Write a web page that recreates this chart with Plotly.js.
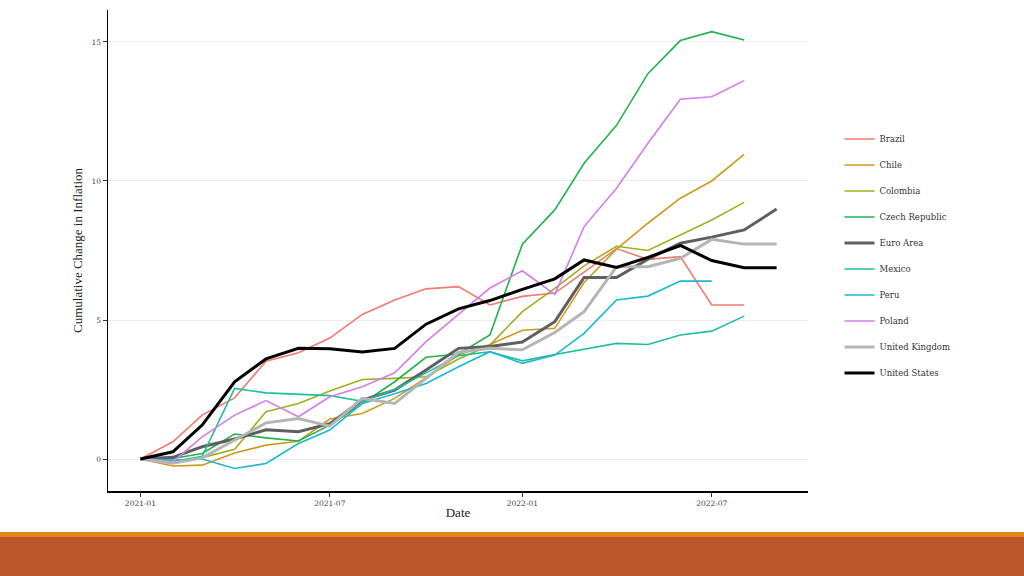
<!DOCTYPE html>
<html>
<head>
<meta charset="utf-8">
<script src="https://cdn.plot.ly/plotly-3.0.1.min.js"></script>
<style>
  html, body { margin: 0; padding: 0; background: #fff; }
  #chart { width: 1024px; height: 532px; }
  #band1 { width: 1024px; height: 5px; background: #e0861a; }
  #band2 { width: 1024px; height: 39px; background: #bc582c; }
</style>
</head>
<body>
<div id="chart"></div>
<div id="band1"></div>
<div id="band2"></div>
<script>
// monthly dates, Jan 2021 - Sep 2022
var dates = ['2021-01-01','2021-02-01','2021-03-01','2021-04-01','2021-05-01','2021-06-01',
  '2021-07-01','2021-08-01','2021-09-01','2021-10-01','2021-11-01','2021-12-01',
  '2022-01-01','2022-02-01','2022-03-01','2022-04-01','2022-05-01','2022-06-01',
  '2022-07-01','2022-08-01','2022-09-01'];

var brazil   = [0, 0.62, 1.58, 2.2, 3.52, 3.82, 4.35, 5.2, 5.72, 6.12, 6.2, 5.54, 5.85, 5.97, 6.72, 7.57, 7.18, 7.28, 5.54, 5.54];
var chile    = [0, -0.25, -0.22, 0.22, 0.5, 0.64, 1.44, 1.64, 2.18, 2.93, 3.75, 4.12, 4.63, 4.7, 6.35, 7.55, 8.48, 9.38, 10.0, 10.96];
var colombia = [0, -0.08, 0.05, 0.35, 1.7, 2.0, 2.45, 2.86, 2.9, 2.96, 3.6, 4.1, 5.3, 6.14, 6.95, 7.65, 7.5, 8.06, 8.6, 9.23];
var czech    = [0, 0.02, 0.2, 0.9, 0.76, 0.65, 1.22, 2.0, 2.78, 3.66, 3.78, 4.46, 7.73, 8.96, 10.64, 12.0, 13.86, 15.05, 15.37, 15.07];
var euro     = [0, 0.06, 0.44, 0.72, 1.05, 0.98, 1.27, 2.12, 2.48, 3.2, 3.98, 4.05, 4.21, 4.94, 6.53, 6.53, 7.19, 7.76, 7.98, 8.24, 8.99];
var mexico   = [0, -0.1, 0.1, 2.54, 2.38, 2.34, 2.28, 2.08, 2.5, 3.1, 3.72, 3.86, 3.53, 3.76, 3.95, 4.16, 4.12, 4.46, 4.6, 5.14];
var peru     = [0, -0.04, 0.0, -0.34, -0.16, 0.56, 1.04, 2.0, 2.35, 2.72, 3.32, 3.86, 3.44, 3.74, 4.52, 5.72, 5.86, 6.4, 6.4];
var poland   = [0, -0.1, 0.8, 1.58, 2.1, 1.52, 2.24, 2.6, 3.1, 4.22, 5.2, 6.15, 6.77, 5.92, 8.36, 9.74, 11.36, 12.94, 13.03, 13.61];
var uk       = [0, -0.15, 0.04, 0.68, 1.3, 1.46, 1.18, 2.18, 2.0, 2.9, 3.84, 3.98, 3.93, 4.55, 5.3, 6.92, 6.92, 7.22, 7.9, 7.73, 7.73];
var us       = [0, 0.26, 1.22, 2.78, 3.6, 3.98, 3.97, 3.85, 3.98, 4.85, 5.4, 5.7, 6.1, 6.48, 7.16, 6.89, 7.25, 7.68, 7.14, 6.88, 6.88];

var names  = ['Brazil','Chile','Colombia','Czech Republic','Euro Area','Mexico','Peru','Poland','United Kingdom','United States'];
var series = [brazil, chile, colombia, czech, euro, mexico, peru, poland, uk, us];
var colors = ['#f07b6e','#cf9a1c','#9fae1e','#22b24c','#5f5f5f','#1dbf9c','#1db7d2','#d47ee9','#b5b5b5','#000000'];
var widths = [1.6, 1.6, 1.6, 1.6, 3, 1.6, 1.6, 1.6, 3, 3];

var data = [];
for (var i = 0; i < names.length; i++) {
  data.push({
    x: dates.slice(0, series[i].length),
    y: series[i],
    type: 'scatter',
    mode: 'lines',
    name: names[i],
    legendgroup: 'g' + i,
    line: {color: colors[i], width: widths[i]}
  });
}

var serif = 'DejaVu Serif, serif';

var layout = {
  width: 1024,
  height: 532,
  margin: {l: 108, r: 216, t: 10, b: 41},
  paper_bgcolor: '#fff',
  plot_bgcolor: '#fff',
  showlegend: true,
  xaxis: {
    type: 'date',
    range: ['2020-12-01', '2022-10-01'],
    tickvals: ['2021-01-01','2021-07-01','2022-01-01','2022-07-01'],
    tickformat: '%Y-%m',
    showgrid: false,
    zeroline: false,
    showline: true,
    linecolor: '#000',
    linewidth: 1.5,
    ticks: 'outside',
    ticklen: 4,
    tickcolor: '#333',
    tickfont: {family: serif, size: 7.5, color: '#444'},
    title: {text: 'Date', font: {family: 'Liberation Serif, serif', size: 13, color: '#222'}, standoff: 1}
  },
  yaxis: {
    range: [-1.15, 16.15],
    tickvals: [0, 5, 10, 15],
    showgrid: true,
    gridcolor: '#ececec',
    gridwidth: 1,
    zeroline: false,
    showline: true,
    linecolor: '#000',
    linewidth: 1.5,
    ticks: 'outside',
    ticklen: 4,
    tickcolor: '#333',
    tickfont: {family: serif, size: 7.5, color: '#444'},
    title: {text: 'Cumulative Change in Inflation', font: {family: 'Liberation Serif, serif', size: 13, color: '#222'}, standoff: 6}
  },
  legend: {
    x: 1.045, xanchor: 'left',
    y: 0.762, yanchor: 'top',
    font: {family: serif, size: 8.5, color: '#333'},
    tracegroupgap: 7,
    bgcolor: 'rgba(0,0,0,0)'
  }
};

Plotly.newPlot('chart', data, layout, {staticPlot: true});
</script>
</body>
</html>
